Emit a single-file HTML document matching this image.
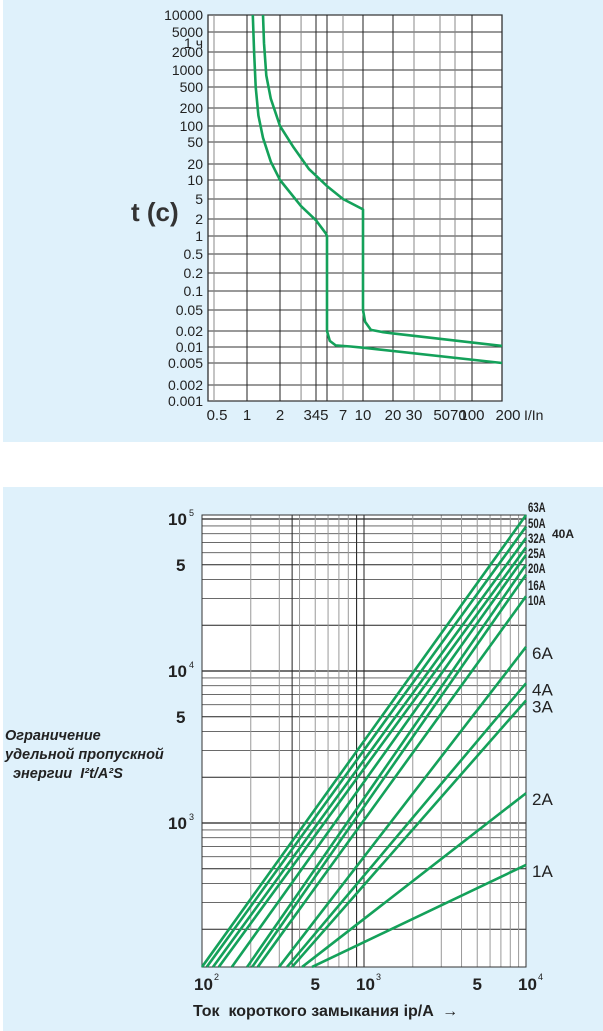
<!DOCTYPE html>
<html><head><meta charset="utf-8"><style>
html,body{margin:0;padding:0;background:#fff;}
svg{display:block;font-family:"Liberation Sans",sans-serif;}
.pre{white-space:pre;}
</style></head><body>
<svg id="root" width="603" height="1031" viewBox="0 0 603 1031">
<rect x="3" y="0" width="600" height="442" fill="#dff1fb"/>
<rect x="3" y="487" width="600" height="544" fill="#dff1fb"/>
<g id="topg"></g>
<g id="botg"></g>
</svg>
<script>
// ---- Top chart data ----
const yTickVals=[10000,5000,2000,1000,500,200,100,50,20,10,5,2,1,0.5,0.2,0.1,0.05,0.02,0.01,0.005,0.002,0.001];
const yTickLabels=["10000","5000","2000","1000","500","200","100","50","20","10","5","2","1","0.5","0.2","0.1","0.05","0.02","0.01","0.005","0.002","0.001"];
const xTickVals=[0.5,1,2,4,5,7,10,20,30,50,70,100,200];
const xTickLabels=["0.5","1","2","345","","7","10","20","30","5070","","100","200"];
const curveLowI=[1.13,1.16,1.2,1.27,1.4,1.65,2,3,4,4.9,5,5,5.3,6,8,10,200];
const curveLowT=[10000,2000,500,150,60,22,10,3.6,1.9,1.1,1,0.02,0.013,0.0107,0.0102,0.0097,0.005];
const curveHighI=[1.4,1.43,1.5,1.65,2,2.6,3.5,5,7,10,10,10.5,12,16,20,200];
const curveHighT=[10000,3000,800,300,100,40,16,8,5,3.1,0.05,0.03,0.021,0.019,0.018,0.0105];
// axis calibration (printed chart's log scale is non-uniform)
const yCalV=[10000,5000,2000,1000,500,200,100,50,20,10,5,2,1,0.5,0.2,0.1,0.05,0.02,0.01,0.005,0.002,0.001];
const yCalP=[15,32,52,70,87,108,126,142,164,180,199,219,236,254,273,291,310,331,347,363,385,401];
const xCalV=[0.4,0.5,1,2,4,5,7,10,20,30,50,70,100,200];
const xCalP=[208,214,247,280,316,327,343,363,393,414,440,455,472,502];
// ---- Bottom chart data ----
const ratings=["63A","50A","40A","32A","25A","20A","16A","10A","6A","4A","3A","2A","1A"];
const startCurrent=[100,107,117,127,153,190,204,221,299,335,360,415,478];
const endEnergy=[106000,89000,75000,65000,58000,50000,43000,31000,14400,8300,6400,1570,530];

function interpLog(v,vals,pix){
  const lv=Math.log10(v);
  for(let i=0;i<vals.length-1;i++){
    const a=Math.log10(vals[i]),b=Math.log10(vals[i+1]);
    if((lv-a)*(lv-b)<=0){return pix[i]+(lv-a)/(b-a)*(pix[i+1]-pix[i]);}
  }
  return pix[pix.length-1];
}
const tx=v=>interpLog(v,xCalV,xCalP), ty=v=>interpLog(v,yCalV,yCalP);
const NS="http://www.w3.org/2000/svg";
function mk(p,tag,at,txt){const e=document.createElementNS(NS,tag);for(const k in at)e.setAttribute(k,at[k]);if(txt!==undefined)e.textContent=txt;p.appendChild(e);return e;}

const topG=document.getElementById('topg');
let r=mk(topG,'rect',{x:208,y:15,width:294,height:386,fill:'#fff',stroke:'#222','stroke-width':1.2});


yTickVals.forEach((v,i)=>{
  const y=ty(v);
  const l=mk(topG,'line',{x1:208,x2:502,y1:y,y2:y,stroke:'#333','stroke-width':1});
  
  
  const t=mk(topG,'text',{x:203,y:y+5,'text-anchor':'end','font-size':14,fill:'#222'},yTickLabels[i]);
  
  
});
let hl=mk(topG,'text',{x:203,y:48,'text-anchor':'end','font-size':14,fill:'#222'},'1 ч');


[0.5,1,2,3,4,5,7,10,20,30,50,70,100].forEach(v=>{
  const x=tx(v);
  const dark=(v==4||v==5||v==10||v==1||v==2||v==20||v==100);
  const l=mk(topG,'line',{x1:x,x2:x,y1:15,y2:401,stroke:dark?'#222':'#888','stroke-width':1});
  
  
});
xTickVals.forEach((v,i)=>{
  if(!xTickLabels[i])return;
  let x=tx(v); if(v==0.5)x=217; if(v==50)x=450; if(v==200)x=508;
  const t=mk(topG,'text',{x:x,y:420,'text-anchor':'middle','font-size':15,fill:'#222'},xTickLabels[i]);
  
  
});
let xt=mk(topG,'text',{x:524,y:420,'font-size':14,fill:'#222'},'I/In');


let yt=mk(topG,'text',{x:131,y:221,'font-size':26,'font-weight':'bold',fill:'#333'},'t (c)');


[[curveLowI,curveLowT,'trip-curve-lower'],[curveHighI,curveHighT,'trip-curve-upper']].forEach(([I,T,n])=>{
  const d=I.map((v,i)=>(i?'L':'M')+tx(v).toFixed(1)+','+ty(T[i]).toFixed(1)).join(' ');
  const p=mk(topG,'path',{d:d,fill:'none',stroke:'#14a15a','stroke-width':2.6,'stroke-linejoin':'round'});
  
  
});

const xMin=100,xMax=10000,yMin=113,yMax=106000;
const bx=v=>202+(Math.log10(v)-2)*162;
const by=v=>671-(Math.log10(v)-4)*152;
const botG=document.getElementById('botg');
r=mk(botG,'rect',{x:202,y:515,width:324,height:452,fill:'#fff'});


for(let e=2;e<=5;e++)for(let m=1;m<=9;m++){
  const v=m*Math.pow(10,e); if(v<yMin||v>yMax)continue;
  const y=by(v);
  const l=mk(botG,'line',{x1:202,x2:526,y1:y,y2:y,stroke:(m==1||m==2||m==5)?'#222':'#555','stroke-width':(m==1)?1.3:0.9});
  
  
}
for(let e=2;e<=4;e++)for(let m=1;m<=9;m++){
  const v=m*Math.pow(10,e); if(v>xMax)continue;
  const x=bx(v);
  const l=mk(botG,'line',{x1:x,x2:x,y1:515,y2:967,stroke:(m==1)?'#222':'#999','stroke-width':1});
  
  
}
[360,900].forEach(v=>{
  const l=mk(botG,'line',{x1:bx(v),x2:bx(v),y1:515,y2:967,stroke:'#222','stroke-width':1});
  
  
});
let bb=mk(botG,'rect',{x:202,y:515,width:324,height:452,fill:'none',stroke:'#333','stroke-width':1});


const yLab=[[100000,'10','5'],[50000,'5',''],[10000,'10','4'],[5000,'5',''],[1000,'10','3']];
yLab.forEach(([v,b,s])=>{
  const t=mk(botG,'text',{x:s?168:176,y:by(v)+6,'font-size':17,'font-weight':'bold',fill:'#222'},b);
  
  
  if(s){
    const u=mk(botG,'text',{x:189,y:by(v)-3,'font-size':9,fill:'#222'},s);
    
    
  }
});
const xLab=[[100,'10','2'],[500,'5',''],[1000,'10','3'],[5000,'5',''],[10000,'10','4']];
xLab.forEach(([v,b,s])=>{
  const t=mk(botG,'text',{x:bx(v)+(s?-8:0),y:990,'text-anchor':s?'start':'middle','font-size':17,'font-weight':'bold',fill:'#222'},b);
  
  
  if(s){
    const u=mk(botG,'text',{x:bx(v)+12,y:980,'font-size':9,fill:'#222'},s);
    
    
  }
});
let bxt=mk(botG,'text',{x:193,y:1016,'font-size':16,'font-weight':'bold',fill:'#222','class':'pre'},'Ток  короткого замыкания ip/A  →');


['Ограничение','удельной пропускной',' энергии  I²t/A²S'].forEach((s,i)=>{
  const t=mk(botG,'text',{x:i==2?9:5,y:740+i*19,'font-size':14.5,'font-weight':'bold','font-style':'italic',fill:'#222','class':'pre'},s);
  
  
});
ratings.forEach((n,i)=>{
  const l=mk(botG,'line',{x1:bx(startCurrent[i]),y1:by(yMin),x2:bx(xMax),y2:by(endEnergy[i]),stroke:'#14a15a','stroke-width':2.6});
  
  
});
const smallLabY=[507,523,538,553,568,585,600];
const smallNames=["63A","50A","32A","25A","20A","16A","10A"];
smallNames.forEach((n,i)=>{
  const yy=smallLabY[i]+5;
  const t=mk(botG,'text',{x:528,y:yy,'font-size':12,'font-weight':'bold',fill:'#222',transform:`translate(528,${yy}) scale(0.8,1.15) translate(-528,${-yy})`},n);
  
  
});
let l40=mk(botG,'text',{x:552,y:538,'font-size':12,'font-weight':'bold',fill:'#222'},'40A');


["6A","4A","3A","2A","1A"].forEach(n=>{
  const i=ratings.indexOf(n);
  const t=mk(botG,'text',{x:532,y:by(endEnergy[i])+12,'font-size':17,fill:'#222'},n);
  
  
});
</script>
</body></html>
